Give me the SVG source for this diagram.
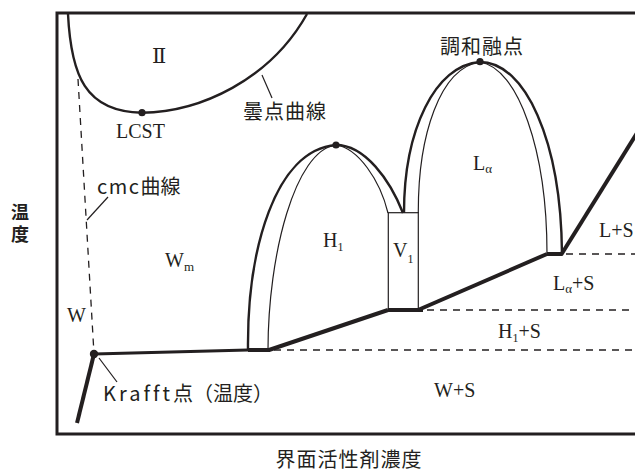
<svg xmlns="http://www.w3.org/2000/svg" width="635" height="473" viewBox="0 0 635 473">
<style>
.frame{fill:none;stroke:#231f20;stroke-width:3}
.thick{fill:none;stroke:#231f20;stroke-width:4;stroke-linecap:butt}
.mid{fill:none;stroke:#231f20;stroke-width:2.4}
.thin{fill:none;stroke:#231f20;stroke-width:1.2}
.dash{fill:none;stroke:#231f20;stroke-width:1.3;stroke-dasharray:7 6}
.dot{fill:#231f20}
.jp{font-family:"Noto Sans CJK JP","Noto Sans",sans-serif;font-size:20px;fill:#231f20}
.ser{font-family:"Liberation Serif","DejaVu Serif",serif;font-size:20px;fill:#231f20}
.sub{font-size:12px}
</style>
<rect width="635" height="473" fill="#fff"/>
<g id="frame">
<path class="frame" d="M637,13 H57 V434 H637"/>
</g>
<g id="cloud-point-curve">
<path class="mid" d="M68,14 C71,75 85,112 142,112.7 C200,112 270,80 307,14"/>
<circle class="dot" cx="142" cy="112.7" r="3.6"/>
<line class="thin" x1="262" y1="75" x2="272" y2="98"/>
</g>
<g id="cmc-curve">
<line class="dash" x1="78" y1="79" x2="94" y2="354"/>
<line class="thin" x1="108" y1="197" x2="87" y2="220"/>
</g>
<g id="krafft">
<line class="thick" x1="77" y1="423" x2="94" y2="354"/>
<line class="mid" x1="94" y1="354" x2="248" y2="350" style="stroke-width:3"/>
<circle class="dot" cx="94" cy="354" r="4.2"/>
<line class="thin" x1="99" y1="358" x2="117" y2="382"/>
</g>
<g id="H1-phase">
<path class="mid" d="M248,350 C247,250 275,150 336,145 C365,145 390,180 403,213"/>
<path class="thin" d="M268,350 C268,255 295,150 336,145 C358,148 380,180 388,213"/>
<line class="thick" x1="248" y1="350" x2="270" y2="350"/>
<line class="thick" x1="269" y1="350" x2="388" y2="310"/>
<circle class="dot" cx="336" cy="145" r="3.6"/>
</g>
<g id="V1-phase">
<rect class="thin" x="388.3" y="212.7" width="30" height="97.3"/>
<line class="thick" x1="388" y1="310" x2="423" y2="310"/>
</g>
<g id="La-phase">
<path class="mid" d="M404,213 C404,130 435,65 480,62 C525,62 561,140 562,254"/>
<path class="thin" d="M418.3,213 C418,135 440,68 480,62 C518,68 547,150 547,254"/>
<line class="thick" x1="547" y1="254" x2="562" y2="254"/>
<line class="thick" x1="418" y1="310" x2="547" y2="254"/>
<line class="thick" x1="561" y1="255" x2="637" y2="133"/>
<circle class="dot" cx="480" cy="61.7" r="3.6"/>
</g>
<g id="boundaries">
<line class="dash" x1="566" y1="254" x2="635" y2="254"/>
<line class="dash" x1="427" y1="310" x2="635" y2="310"/>
<line class="dash" x1="274" y1="350" x2="635" y2="350"/>
</g>
<g id="labels">
<text class="ser" x="152" y="63" style="font-size:21px">Ⅱ</text>
<text class="ser" x="116" y="138">LCST</text>
<text class="jp" x="243" y="119" letter-spacing="1">曇点曲線</text>
<text class="jp" x="440" y="53.5" letter-spacing="1">調和融点</text>
<text class="jp" x="97" y="193.5"><tspan letter-spacing="1.5">cmc</tspan>曲線</text>
<text class="jp" x="103" y="401"><tspan letter-spacing="3">Krafft</tspan>点（温度）</text>
<text class="ser" x="67" y="322">W</text>
<text class="ser" x="165" y="267">W<tspan class="sub" dy="4" style="font-size:13px">m</tspan></text>
<text class="ser" x="323" y="247">H<tspan class="sub" dy="4">1</tspan></text>
<text class="ser" x="393" y="257">V<tspan class="sub" dy="6">1</tspan></text>
<text class="ser" x="473" y="170">L<tspan class="sub" dy="3" style="font-size:13px">α</tspan></text>
<text class="ser" x="599" y="237">L+S</text>
<text class="ser" x="553" y="290">L<tspan class="sub" dy="3" style="font-size:13px">α</tspan><tspan dy="-3">+S</tspan></text>
<text class="ser" x="498" y="338">H<tspan class="sub" dy="4">1</tspan><tspan dy="-4">+S</tspan></text>
<text class="ser" x="434" y="397">W+S</text>
<text class="jp" x="349" y="467" text-anchor="middle" letter-spacing="1">界面活性剤濃度</text>
<text class="jp" x="20" y="203" letter-spacing="4" style="font-size:18px;font-weight:700;writing-mode:vertical-rl">温度</text>
</g>
</svg>
